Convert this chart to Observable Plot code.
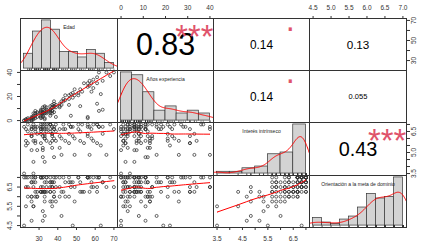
<!DOCTYPE html>
<html><head><meta charset="utf-8">
<script src="https://cdn.jsdelivr.net/npm/d3@7"></script>
<script src="https://cdn.jsdelivr.net/npm/@observablehq/plot@0.6"></script>
<style>
html,body{margin:0;padding:0;background:#fff;}
#chart{position:relative;width:425px;height:244px;overflow:hidden;background:#fff;}
</style></head><body><div id="chart"></div>
<script>
// ---- data ----
const varNames = ["Edad", "Años experiencia", "Interés intrínseco", "Orientación a la meta de dominio"];
const edad = [22,23,23,24,24,24,22,23,
 26,26,26,26,26,27,27,27,27,28,28,28,28,29,29,29,26,26,27,28,
 31,32,31,31,31,31,31,32,32,32,32,33,33,33,33,34,34,34,34,33,31,32,33,34,32,33,
 36,36,37,36,36,36,37,37,37,37,38,38,38,38,39,39,39,36,36,37,38,
 41,41,41,42,42,43,43,44,44,
 46,46,46,47,47,48,48,49,49,
 51,51,52,52,53,54,
 56,56,56,56,57,57,58,58,59,59,
 61,61,61,62,62,63,64,64,
 66,68,70];
const anios = [0,1,0,1,2,0,0,1,
 1,2,0,3,2,4,1,6,3,2,6,6,4,3,7,6,0,1,2,8,
 3,6,7,4,6,8,2,6,7,9,4,6,8,11,6,7,9,11,6,1,9,3,12,8,11,2,
 6,8,11,7,9,12,8,11,13,6,11,12,14,7,11,13,3,4,9,8,16,
 12,14,11,16,13,18,16,21,17,
 18,13,21,22,4,23,19,26,21,
 23,21,26,12,24,31,
 2,28,3,31,29,33,24,31,27,34,
 36,14,31,40,8,22,33,9,
 40,37,40];
const interes = [3.5,5.83,6.67,7,5.67,6.5,6.83,5.5,6.33,6.83,
 5.17,6.17,6.67,3.5,5.83,6.83,7,5.67,6.5,6.83,
 6.67,6.33,6.83,5.17,6.17,6.67,4.33,5.83,6.67,7,
 5.67,6.5,7,6.67,6.33,6.83,5.17,6.17,6.67,4.33,
 6,6.67,7,5.83,6.5,7,6.83,6.33,6.83,5.33,
 6.17,6.67,4.67,6,6.67,7,5.83,6.5,7,7,
 6.33,6.83,5.33,6.17,6.67,4.67,6,6.67,7,5.83,
 6.5,7,5.67,6.33,6.83,5.33,6.17,6.67,4.83,6,
 6.67,7,5.83,6.67,7,5.67,6.33,6.83,6.83,6.17,
 6.83,4.83,6,6.67,7,5.83,6.5,7,5.67,6.33,
 6.83,7,6.17,6.83,4.83,6,6.67,7,5.83,7,
 7,5.67,6.83,6.83,5.5,6.33,6.83,4.83,7,6.67];
const orientacion = [4.5,6.5,7,7,6.5,6,7,5.5,6,7,
 4.75,5.75,6.75,5.5,6.75,7,6.5,6.75,6.25,7,
 6,6,6.25,6,6,6.75,5.5,7,7,7,
 7,6.25,7,6.25,6.25,6.5,6.25,6.25,7,6.25,
 5,6,6.75,6.75,6.25,7,6.5,6.25,6.5,5.25,
 6.25,7,4.75,5.75,6.25,6.75,5.5,6.5,7,6.75,
 6.5,6.75,5.75,6.5,7,6,6,6.25,7,5.75,
 6.5,6.25,5.75,6.75,6.75,6,6.5,7,5,6.25,
 6.25,7,6,6.75,6.75,6,7,6.75,6.5,6.75,
 4.5,5.75,6.5,7,7,6.25,6.75,6.25,6.25,7,
 7,7,7,7,6.25,6.75,6.5,7,6.5,7,
 6.5,6.25,7,7,4.5,6.75,6.75,6.5,7,6.5];

// correlation panel texts (upper triangle: row, column)
const corrPairs = [[0,1],[0,2],[0,3],[1,2],[1,3],[2,3]];
const corrValues = ["0.83","0.14","0.13","0.14","0.055","0.43"];
const corrStars = ["***",".","",".","","***"];

// histogram breaks
const histBreaks = [
  [20,25,30,35,40,45,50,55,60,65,70],
  [0,5,10,15,20,25,30,35,40],
  [3.5,4,4.5,5,5.5,6,6.5,7],
  [4.5,4.75,5,5.25,5.5,5.75,6,6.25,6.5,6.75,7]
];

// axis ticks and which ones carry labels
const tickValues = [[30,40,50,60,70],[0,10,20,30,40],[3.5,4,4.5,5,5.5,6,6.5,7],[4.5,5,5.5,6,6.5,7]];
const topLabeled = {1: [0,10,20,30,40], 3: [4.5,5,5.5,6,6.5,7]};
const bottomLabeled = {0: [30,40,50,60,70], 2: [3.5,4.5,5.5,6.5]};
const leftLabeled = {1: [0,20,40], 3: [4.5,5.5,6.5]};
const rightLabeled = {0: [30,50,70], 2: [3.5,5,6.5]};

// ---- layout & style ----
const colEdges = [20,117,213,309,406];
const rowEdges = [18,70,122,175,227];
const M = 24;
const INK = "#333333", RED = "#ff0000", STAR = "#DF536B", BAR = "#d3d3d3";
const FONT = '"Liberation Sans", Arial, Helvetica, sans-serif';

const vars = [edad, anios, interes, orientacion];
const n = edad.length;
const rows = d3.range(n).map(i => vars.map(v => v[i]));
const fmtv = [d3.format("d"), d3.format("d"), d3.format(".1f"), d3.format(".1f")];
const expand = ([a, b]) => { const d = (b - a) * 0.04; return [a - d, b + d]; };
const dataDomains = vars.map(v => expand(d3.extent(v)));
const PW = d3.pairs(colEdges, (a, b) => b - a);
const PH = d3.pairs(rowEdges, (a, b) => b - a);

function kde(values, lo, hi, m = 200) {
  const k = values.length;
  const sd = d3.deviation(values);
  const iqr = d3.quantile(values, 0.75) - d3.quantile(values, 0.25);
  let s = Math.min(sd, iqr / 1.34); if (!(s > 0)) s = sd;
  const bw = 0.9 * s * Math.pow(k, -0.2);
  const pts = [];
  for (let j = 0; j <= m; j++) {
    const x = lo + (hi - lo) * j / m;
    let acc = 0;
    for (const v of values) { const u = (x - v) / bw; acc += Math.exp(-0.5 * u * u); }
    pts.push({x, y: acc / (k * bw * Math.sqrt(2 * Math.PI))});
  }
  return pts;
}

function lowess(xs, ys, f = 2/3, iter = 3) {
  const N = xs.length;
  const order = d3.range(N).sort((a, b) => xs[a] - xs[b]);
  const x = order.map(i => xs[i]), y = order.map(i => ys[i]);
  const ns = Math.max(Math.min(Math.round(f * N), N), 2);
  const rng = x[N - 1] - x[0];
  let rw = new Array(N).fill(1);
  const fit = new Array(N).fill(0);
  const hs = x.map(xi => x.map(v => Math.abs(v - xi)).sort((a, b) => a - b)[ns - 1]);
  for (let it = 0; it <= iter; it++) {
    for (let i = 0; i < N; i++) {
      const h = hs[i], h9 = 0.999 * h, h1 = 0.001 * h;
      let sw = 0, sx = 0, sy = 0, sxx = 0, sxy = 0;
      for (let j = 0; j < N; j++) {
        const d = Math.abs(x[j] - x[i]);
        if (d > h9) continue;
        let w = d <= h1 ? 1 : Math.pow(1 - Math.pow(d / h, 3), 3);
        w *= rw[j];
        sw += w; sx += w * x[j]; sy += w * y[j]; sxx += w * x[j] * x[j]; sxy += w * x[j] * y[j];
      }
      if (sw <= 0) { fit[i] = y[i]; continue; }
      const mx = sx / sw, my = sy / sw, vx = sxx / sw - mx * mx;
      fit[i] = Math.sqrt(Math.max(vx, 0)) > 0.001 * rng ? my + (sxy / sw - mx * my) / vx * (x[i] - mx) : my;
    }
    if (it === iter) break;
    const res = y.map((v, i) => v - fit[i]);
    const cmad = 6 * d3.median(res, Math.abs);
    if (!(cmad > 1e-7 * d3.mean(y, Math.abs))) break;
    rw = res.map(e => { const u = Math.abs(e) / cmad; return u <= 0.001 ? 1 : u > 0.999 ? 0 : (1 - u * u) ** 2; });
  }
  return x.map((v, i) => ({x: v, y: fit[i]}));
}

const emWidth = s => d3.sum(s, ch => ch === "." ? 0.278 : 0.556);

function axisMarks(r, c) {
  const m = [];
  const common = {tickSize: 3, fontSize: 6.5, color: INK, label: null, fontFamily: FONT};
  const lab = (set, v) => d => set.includes(d) ? fmtv[v](d) : "";
  if (r === 0 && c % 2 === 1)
    m.push(Plot.axisX({...common, anchor: "top", ticks: tickValues[c], tickPadding: 5.5, tickFormat: lab(topLabeled[c], c)}));
  if (r === 3 && c % 2 === 0)
    m.push(Plot.axisX({...common, anchor: "bottom", ticks: tickValues[c], tickPadding: 6.2, tickFormat: lab(bottomLabeled[c], c)}));
  if (c === 0 && r % 2 === 1)
    m.push(Plot.axisY({...common, anchor: "left", ticks: tickValues[r], tickPadding: 5.5, tickRotate: -90, lineAnchor: "bottom", textAnchor: "middle", tickFormat: lab(leftLabeled[r], r)}));
  if (c === 3 && r % 2 === 0)
    m.push(Plot.axisY({...common, anchor: "right", ticks: tickValues[r], tickPadding: 1.4, tickRotate: -90, lineAnchor: "top", textAnchor: "middle", tickFormat: lab(rightLabeled[r], r)}));
  return m;
}

const chart = document.getElementById("chart");

for (let r = 0; r < 4; r++) for (let c = 0; c < 4; c++) {
  const W = PW[c], H = PH[r];
  const marks = [];
  let xDomain, yDomain;
  if (r === c) {
    const vals = vars[c];
    const br = histBreaks[c];
    const lo = br[0], hi = br[br.length - 1];
    // right-closed bins (lowest value included), as R's hist() does
    const bins = d3.bin().value(v => Math.max(lo, v - 1e-9)).domain([lo, hi]).thresholds(br.slice(1, -1))(vals);
    const maxCount = d3.max(bins, b => b.length);
    xDomain = expand([lo, hi]);
    yDomain = [-0.04 * maxCount, 1.04 * maxCount];
    const bwid = br[1] - br[0];
    const dens = kde(vals, xDomain[0], xDomain[1]).map(p => ({x: p.x, y: p.y * vals.length * bwid}));
    const rugLen = 0.03 * Math.min(W, H) / H * (yDomain[1] - yDomain[0]);
    marks.push(Plot.rectY(bins, {x1: d => d.x0, x2: d => d.x1, y1: 0, y2: d => d.length, fill: BAR, stroke: INK, strokeWidth: 0.7}));
    marks.push(Plot.line(dens, {x: "x", y: "y", stroke: RED, strokeWidth: 1, clip: true}));
    marks.push(Plot.ruleX(vals, {x: d => d, y1: yDomain[0], y2: yDomain[0] + rugLen, stroke: INK, strokeWidth: 0.5}));
    marks.push(Plot.text([varNames[c]], {frameAnchor: "top", dy: H * (1 - 0.8333), text: d => d, fontSize: 5, lineAnchor: "middle", fill: "#222", fontFamily: FONT}));
  } else if (r > c) {
    xDomain = dataDomains[c]; yDomain = dataDomains[r];
    const sm = lowess(vars[c], vars[r]);
    marks.push(Plot.dot(rows, {x: d => d[c], y: d => d[r], r: 1.5, stroke: "#333", strokeWidth: 0.75, fill: "none"}));
    marks.push(Plot.line(sm, {x: "x", y: "y", stroke: RED, strokeWidth: 1, clip: true}));
  } else {
    xDomain = dataDomains[c]; yDomain = dataDomains[r];
    const k = corrPairs.findIndex(([a, b]) => a === r && b === c);
    const txt = corrValues[k], rv = Math.abs(+txt), sig = corrStars[k];
    const baseW = 0.71 * W;
    const fsNum = baseW / 1.3 * (rv + 0.3) / emWidth(txt);
    const fsSig = 0.93 * baseW / emWidth(txt);
    marks.push(Plot.text([txt], {frameAnchor: "middle", text: d => d, fontSize: fsNum, lineAnchor: "bottom", dy: 0.358 * fsNum, fill: "#000", fontFamily: FONT}));
    if (sig.trim())
      marks.push(Plot.text([sig], {frameAnchor: "middle", text: d => d, fontSize: fsSig, lineAnchor: "bottom",
        dx: 0.3 * W, dy: -0.3 * H + (sig === "." ? 0.05 : 0.58) * fsSig, fill: STAR, fontFamily: FONT}));
  }
  marks.push(Plot.frame({stroke: INK, strokeWidth: 1}));
  marks.push(...axisMarks(r, c));
  const hasXAxis = (r === 0 && c % 2 === 1) || (r === 3 && c % 2 === 0);
  const hasYAxis = (c === 0 && r % 2 === 1) || (c === 3 && r % 2 === 0);
  const svg = Plot.plot({
    width: W + 2 * M, height: H + 2 * M, margin: M,
    x: hasXAxis ? {domain: xDomain} : {domain: xDomain, axis: null},
    y: hasYAxis ? {domain: yDomain} : {domain: yDomain, axis: null},
    marks
  });
  svg.style.position = "absolute";
  svg.style.left = (colEdges[c] - M) + "px";
  svg.style.top = (rowEdges[r] - M) + "px";
  svg.style.background = "transparent";
  svg.style.overflow = "visible";
  svg.style.maxWidth = "none";
  svg.style.fontFamily = FONT;
  chart.appendChild(svg);
}
</script></body></html>
